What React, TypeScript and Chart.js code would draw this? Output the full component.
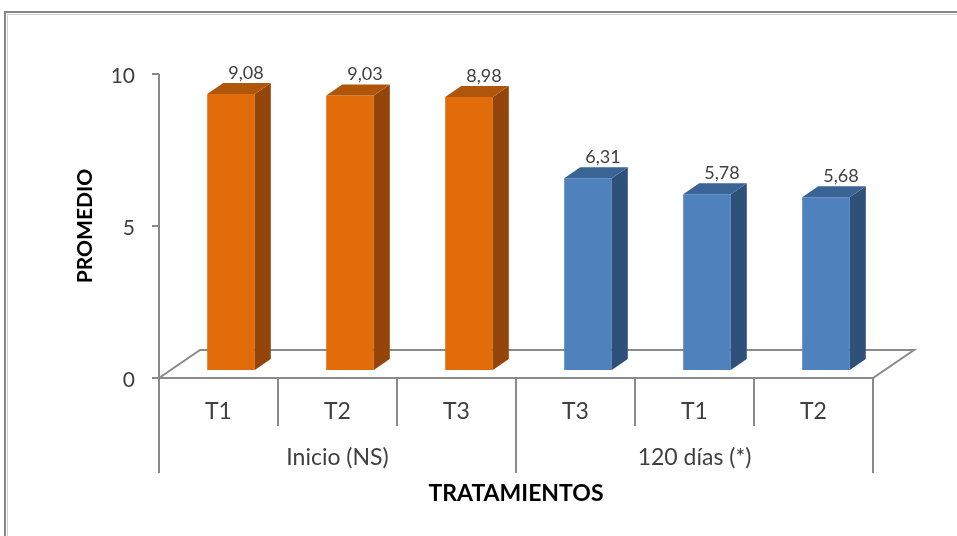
import React, { useEffect, useRef } from "react";
import { Chart, registerables } from "chart.js";

Chart.register(...registerables);

const categories = ["T1", "T2", "T3", "T3", "T1", "T2"];
const groups = ["Inicio (NS)", "120 días (*)"];
const groupSizes = [3, 3];
const values = [9.08, 9.03, 8.98, 6.31, 5.78, 5.68];
const yTicks = [0, 5, 10];
const yTitle = "PROMEDIO";
const xTitle = "TRATAMIENTOS";

const frontColors = ["#E36C0A", "#4F81BD"];
const topColors = ["#B0560B", "#3A6396"];
const sideColors = ["#94450A", "#2F5079"];

const FONT = "Lato, 'Open Sans', sans-serif";
const AXIS = "#8A8A8A";
const TXT = "#404040";

// depth geometry
const FLOOR_DX = 41;
const FLOOR_DY = -28;
const BAR_SHIFT_X = 12.5;
const BAR_SHIFT_Y = -8;
const BAR_DX = 16;
const BAR_DY = -11;

function groupOf(i: number) {
  let acc = 0;
  for (let g = 0; g < groupSizes.length; g++) {
    acc += groupSizes[g];
    if (i < acc) return g;
  }
  return groupSizes.length - 1;
}

const threeD = {
  id: "threeD",
  beforeDraw(chart: any) {
    const ctx = chart.ctx;
    const { left, right, top } = chart.chartArea;
    const y = chart.scales.y;
    const x = chart.scales.x;
    const y0 = y.getPixelForValue(0);
    ctx.save();
    ctx.fillStyle = "#fff";
    ctx.fillRect(0, 0, chart.width, chart.height);
    // outer frame
    ctx.strokeStyle = "#878787";
    ctx.lineWidth = 2;
    ctx.beginPath();
    ctx.moveTo(5, 536);
    ctx.lineTo(5, 12);
    ctx.lineTo(957, 12);
    ctx.stroke();
    ctx.strokeStyle = "#D0D0D0";
    ctx.lineWidth = 1;
    ctx.beginPath();
    ctx.moveTo(7.5, 536);
    ctx.lineTo(7.5, 14.5);
    ctx.lineTo(957, 14.5);
    ctx.stroke();

    // floor
    ctx.strokeStyle = AXIS;
    ctx.lineWidth = 2;
    ctx.beginPath();
    ctx.moveTo(left, y0);
    ctx.lineTo(left + FLOOR_DX, y0 + FLOOR_DY);
    ctx.lineTo(right + FLOOR_DX, y0 + FLOOR_DY);
    ctx.lineTo(right, y0);
    ctx.closePath();
    ctx.stroke();

    // y axis line + ticks
    const yTop = y.getPixelForValue(yTicks[yTicks.length - 1]);
    ctx.beginPath();
    ctx.moveTo(left, yTop);
    ctx.lineTo(left, y0 + 95);
    ctx.stroke();
    ctx.fillStyle = TXT;
    ctx.font = "21px " + FONT;
    ctx.textAlign = "right";
    ctx.textBaseline = "middle";
    yTicks.forEach((t) => {
      const py = y.getPixelForValue(t);
      ctx.beginPath();
      ctx.moveTo(left - 7, py);
      ctx.lineTo(left, py);
      ctx.stroke();
      ctx.fillText(String(t), left - 24, py + 2);
    });

    // category separators
    const n = categories.length;
    const boundaries: number[] = [0];
    let acc = 0;
    groupSizes.forEach((s) => {
      acc += s;
      boundaries.push(acc);
    });
    const step = x.getPixelForValue(1) - x.getPixelForValue(0);
    for (let i = 0; i <= n; i++) {
      const px = i < n ? x.getPixelForValue(i) - step / 2 : x.getPixelForValue(n - 1) + step / 2;
      const isGroup = boundaries.includes(i);
      ctx.beginPath();
      ctx.moveTo(px, y0);
      ctx.lineTo(px, y0 + (isGroup ? 95 : 48));
      ctx.stroke();
    }

    // category labels
    ctx.textAlign = "center";
    ctx.font = "23px " + FONT;
    categories.forEach((c, i) => {
      ctx.fillText(c, x.getPixelForValue(i), y0 + 34);
    });
    // group labels
    let start = 0;
    groups.forEach((g, gi) => {
      const end = start + groupSizes[gi] - 1;
      const cx = (x.getPixelForValue(start) + x.getPixelForValue(end)) / 2;
      ctx.fillText(g, cx, y0 + 80);
      start = end + 1;
    });

    // titles
    ctx.fillStyle = "#000";
    ctx.font = "bold 23px " + FONT;
    ctx.fillText(xTitle, (left + right) / 2, y0 + 116);
    ctx.font = "bold 21px " + FONT;
    ctx.save();
    ctx.translate(85, (top + y0) / 2);
    ctx.rotate(-Math.PI / 2);
    ctx.fillText(yTitle, 0, 0);
    ctx.restore();
    ctx.restore();
  },
  beforeDatasetsDraw(chart: any) {
    chart.ctx.save();
    chart.ctx.translate(BAR_SHIFT_X, BAR_SHIFT_Y);
  },
  afterDatasetsDraw(chart: any) {
    const ctx = chart.ctx;
    const meta = chart.getDatasetMeta(0);
    meta.data.forEach((bar: any, i: number) => {
      const g = groupOf(i);
      const hw = bar.width / 2;
      const l = bar.x - hw;
      const r = bar.x + hw;
      const t = bar.y;
      const b = bar.base;
      ctx.fillStyle = sideColors[g];
      ctx.beginPath();
      ctx.moveTo(r, t);
      ctx.lineTo(r + BAR_DX, t + BAR_DY);
      ctx.lineTo(r + BAR_DX, b + BAR_DY);
      ctx.lineTo(r, b);
      ctx.closePath();
      ctx.fill();
      ctx.fillStyle = topColors[g];
      ctx.beginPath();
      ctx.moveTo(l, t);
      ctx.lineTo(l + BAR_DX, t + BAR_DY);
      ctx.lineTo(r + BAR_DX, t + BAR_DY);
      ctx.lineTo(r, t);
      ctx.closePath();
      ctx.fill();
      // value label
      ctx.fillStyle = TXT;
      ctx.font = "18px " + FONT;
      ctx.textAlign = "center";
      ctx.textBaseline = "alphabetic";
      ctx.fillText(values[i].toFixed(2).replace(".", ","), bar.x + 15, t - 15);
    });
    ctx.restore();
  },
};

export default function App() {
  const ref = useRef<HTMLCanvasElement>(null);
  useEffect(() => {
    if (!ref.current) return;
    const chart = new Chart(ref.current, {
      type: "bar",
      data: {
        labels: categories,
        datasets: [
          {
            data: values,
            backgroundColor: values.map((_, i) => frontColors[groupOf(i)]),
            borderWidth: 0,
            barPercentage: 0.4,
            categoryPercentage: 1,
          },
        ],
      },
      options: {
        responsive: false,
        animation: false,
        layout: { padding: { left: 159, right: 84, top: 74, bottom: 158 } },
        plugins: { legend: { display: false }, tooltip: { enabled: false } },
        scales: {
          x: { display: false },
          y: { display: false, min: 0, max: 10 },
        },
      },
      plugins: [threeD],
    });
    return () => chart.destroy();
  }, []);
  return (
    <div style={{ position: "fixed", left: 0, top: 0, width: 957, height: 536, background: "#fff" }}>
      <canvas ref={ref} width={957} height={536} style={{ width: 957, height: 536 }} />
    </div>
  );
}
